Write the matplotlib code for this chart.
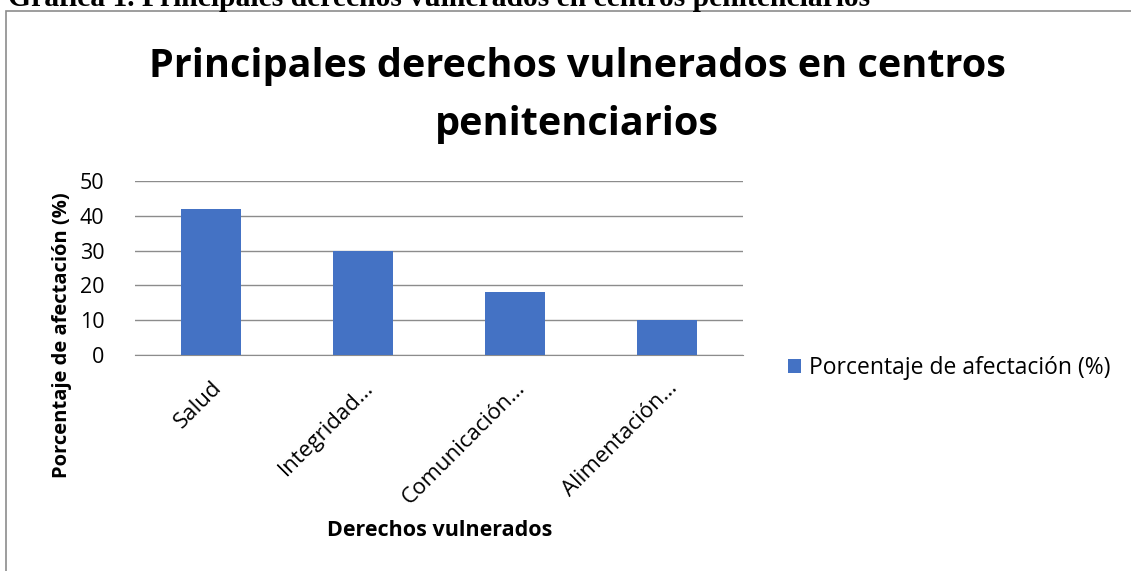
import matplotlib
matplotlib.use("Agg")
import matplotlib.pyplot as plt
from matplotlib.patches import Rectangle

categories = ["Salud", "Integridad…", "Comunicación…", "Alimentación…"]
values = [42, 30, 18, 10]
yticks = [0, 10, 20, 30, 40, 50]
series_name = "Porcentaje de afectación (%)"

W, H = 1131, 571
fig = plt.figure(figsize=(W / 100, H / 100), dpi=100)
plt.rcParams['font.family'] = ['Open Sans', 'DejaVu Sans']

# frame
fig.patches.append(Rectangle((5.5 / W, -0.1), 1.2, (H - 11) / H + 0.1,
                             transform=fig.transFigure, fill=False,
                             edgecolor='#8c8c8c', linewidth=1.2))

# cut caption
fig.text(8 / W, 1 - 6 / H, "Gráfica 1. Principales derechos vulnerados en centros penitenciarios",
         family='Liberation Serif', fontweight='bold', fontsize=21.3, va='baseline', ha='left')

ax = fig.add_axes([135 / W, 1 - 355 / H, (743 - 135) / W, (355 - 181) / H])
x = range(len(categories))
bars = ax.bar(x, values, width=0.4, color='#4472C4', label=series_name, zorder=3)
ax.set_xlim(-0.5, len(categories) - 0.5)
ax.set_ylim(0, 50)
ax.set_yticks(yticks)
ax.set_yticklabels([str(t) for t in yticks], fontsize=15.5)
ax.set_xticks(list(x))
ax.set_xticklabels(categories, rotation=45, ha='right', rotation_mode='anchor', fontsize=16)
ax.tick_params(axis='x', length=0, pad=16)
ax.tick_params(axis='y', length=0, pad=22)
ax.grid(axis='y', color='#8c8c8c', linewidth=1, zorder=0)
for s in ax.spines.values():
    s.set_color('#8c8c8c')
ax.spines['top'].set_visible(False)
ax.spines['right'].set_visible(False)
ax.spines['left'].set_visible(False)

fig.text(577 / W, 1 - 67 / H, "Principales derechos vulnerados en centros",
         ha='center', va='center', fontsize=28.5, fontweight='bold')
fig.text(577 / W, 1 - 124 / H, "penitenciarios",
         ha='center', va='center', fontsize=28.5, fontweight='bold')

fig.text(62 / W, 1 - 335 / H, "Porcentaje de afectación (%)", rotation=90,
         ha='center', va='center', fontsize=14.5, fontweight='bold')
fig.text(440 / W, 1 - 530 / H, "Derechos vulnerados",
         ha='center', va='center', fontsize=15.5, fontweight='bold')

fig.legend(handles=[bars], labels=[series_name], loc='center left',
           bbox_to_anchor=(767 / W, 1 - 368 / H), frameon=False,
           fontsize=16.5, handlelength=0.6, handleheight=0.6, handletextpad=0.35)

fig.savefig("out.png", dpi=100)
